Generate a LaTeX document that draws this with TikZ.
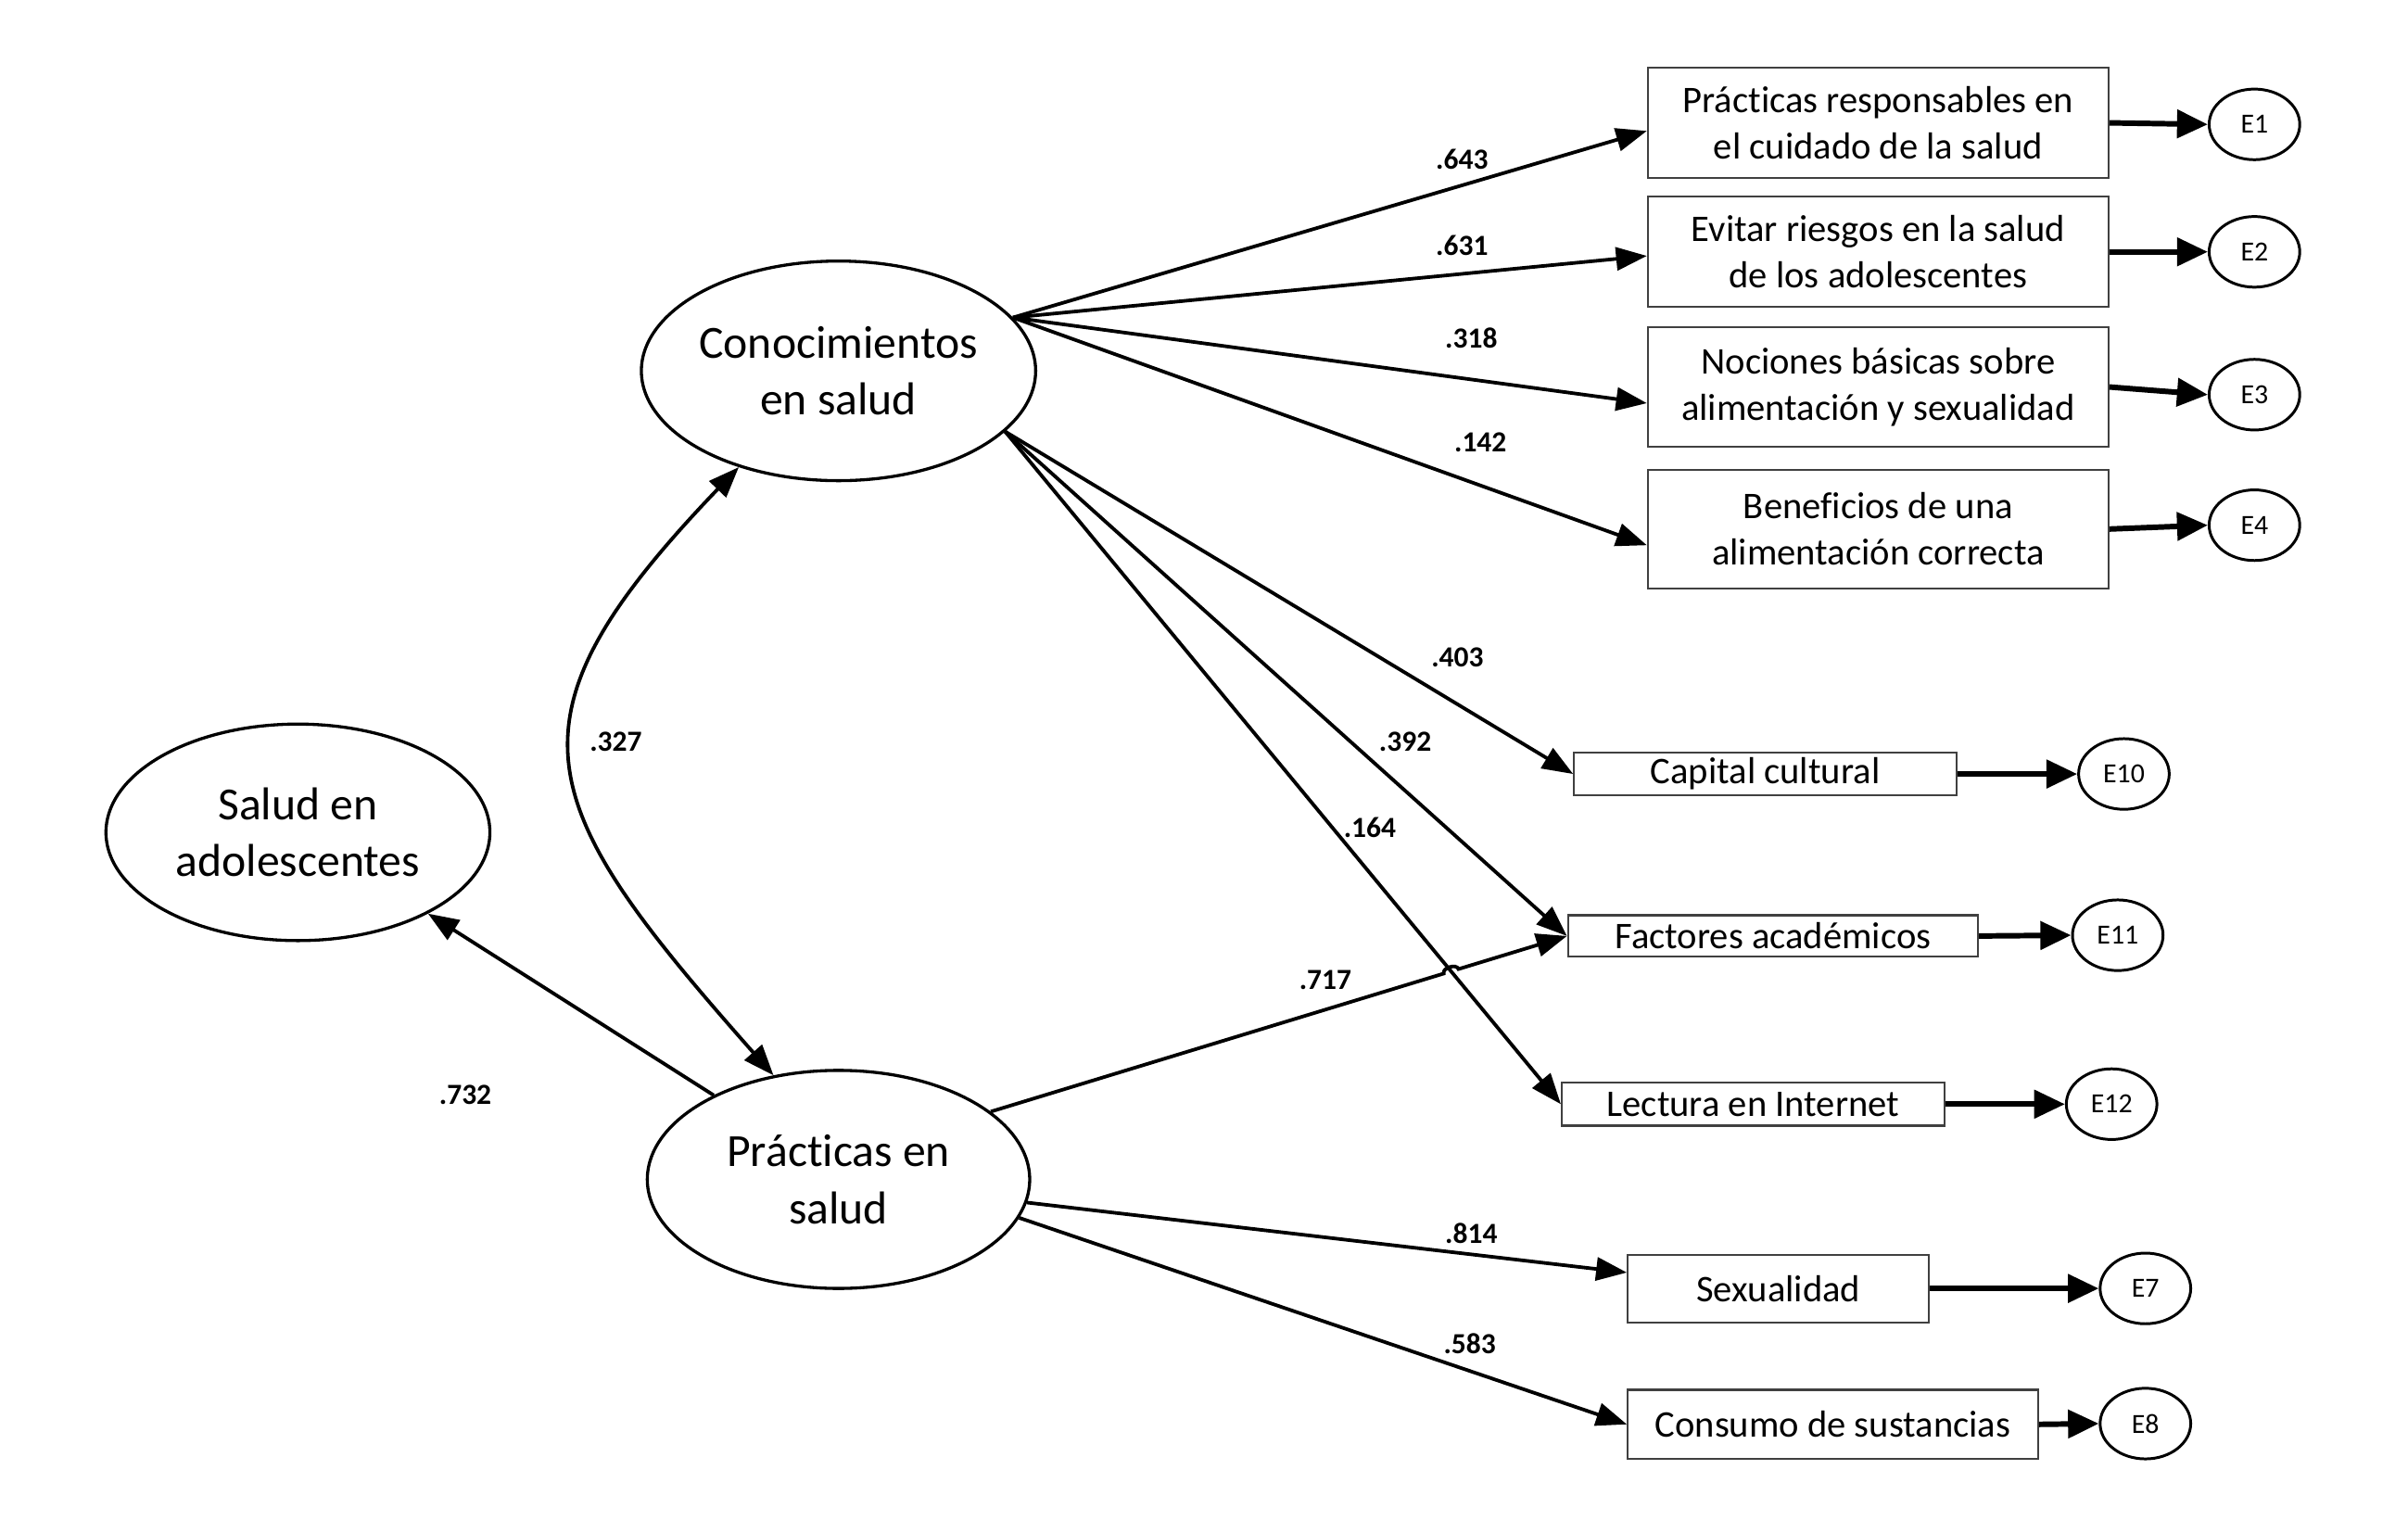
\documentclass[tikz,border=0pt]{standalone}
\usepackage{fontspec}
\setmainfont{Carlito}[Ligatures=NoCommon]
\usetikzlibrary{shapes.geometric,arrows.meta,calc,intersections}
\begin{document}
\begin{tikzpicture}[x=1pt,y=-1pt,
  latent/.style={ellipse,draw,line width=2pt,minimum width=249pt,minimum height=143pt,inner sep=0pt,align=center,font=\fontsize{30}{37}\selectfont},
  obs/.style={rectangle,draw=black!75,line width=1.3pt,inner sep=0pt,align=center,font=\fontsize{24.5}{30}\selectfont},
  err/.style={ellipse,draw,line width=1.8pt,minimum width=59pt,minimum height=46pt,inner sep=0pt,font=\fontsize{18}{20}\selectfont},
  load/.style={line width=2.3pt,-{Triangle[length=20pt,width=15pt]}},
  dload/.style={line width=2.3pt,{Triangle[length=20pt,width=15pt]}-{Triangle[length=20pt,width=15pt]}},
  epath/.style={line width=3.6pt,-{Triangle[length=20pt,width=18pt]}},
  coef/.style={font=\fontsize{19}{22}\selectfont\bfseries,inner sep=0pt}]
\useasboundingbox (0,0) rectangle (1568,998);

% latent variables
\node[latent] (C) at (546,241.5) {Conocimientos\\en salud};
\node[latent,minimum width=250pt,minimum height=141pt] (S) at (194,542) {Salud en\\adolescentes};
\node[latent,minimum height=142pt] (P) at (546,768) {Prácticas en\\salud};

% observed variables
\node[obs,minimum width=300pt,minimum height=72pt] (B1) at (1223,80) {Prácticas responsables en\\el cuidado de la salud};
\node[obs,minimum width=300pt,minimum height=72pt] (B2) at (1223,164) {Evitar riesgos en la salud\\de los adolescentes};
\node[obs,minimum width=300pt,minimum height=78pt] (B3) at (1223,252) {Nociones básicas sobre\\alimentación y sexualidad};
\node[obs,minimum width=300pt,minimum height=77pt] (B4) at (1223,344.5) {Beneficios de una\\alimentación correcta};
\node[obs,minimum width=249pt,minimum height=28pt] (Cap) at (1149.5,504) {Capital cultural};
\node[obs,minimum width=267pt,minimum height=27pt] (Fac) at (1154.5,609.5) {Factores académicos};
\node[obs,minimum width=249pt,minimum height=28pt] (Lec) at (1141.5,719) {Lectura en Internet};
\node[obs,minimum width=196pt,minimum height=44pt] (Sex) at (1158,839) {Sexualidad};
\node[obs,minimum width=267pt,minimum height=45pt] (Con) at (1193.5,927.5) {Consumo de sustancias};

% errors
\node[err] (E1) at (1468,81) {E1};
\node[err] (E2) at (1468,164) {E2};
\node[err] (E3) at (1468,257) {E3};
\node[err] (E4) at (1468,342) {E4};
\node[err] (E10) at (1383,504) {E10};
\node[err] (E11) at (1379,609) {E11};
\node[err] (E12) at (1375,719) {E12};
\node[err] (E7) at (1397,839) {E7};
\node[err] (E8) at (1397,927) {E8};

% error arrows
\draw[epath] (B1.east) -- (E1.west);
\draw[epath] (B2.east) -- (E2.west);
\draw[epath] (B3.east) -- (E3.west);
\draw[epath] (B4.east) -- (E4.west);
\draw[epath] (Cap.east) -- (E10.west);
\draw[epath] (Fac.east) -- (E11.west);
\draw[epath] (Lec.east) -- (E12.west);
\draw[epath] (Sex.east) -- (E7.west);
\draw[epath] (Con.east) -- (E8.west);

% loadings of Conocimientos
\draw[load] (C.17) -- (B1.182);
\draw[load] (C.17) -- (B2.181);
\draw[load] (C.17) -- (B3.184);
\draw[load] (C.17) -- (B4.184);
\draw[load] (C.-20) -- (Cap.west);
\draw[load] (C.-20) -- (Fac.west);
\draw[load,name path=l164] (C.-20) -- (Lec.west);

% loadings of Practicas
\path[name path=l717] (P.24) -- (Fac.west);
\path[name intersections={of=l164 and l717,by=X}];
\draw[load] (P.24) -- ($(X)!5pt!(P.24)$) to[bend left=90] ($(X)!5pt!(Fac.west)$) -- (Fac.west);
\draw[load] (P.-7) -- (Sex.174);
\draw[load] (P.-12) -- (Con.west);
\draw[load] (P.146) -- (S.-32);

% correlation
\draw[dload] (C.224) .. controls (322,470) and (346,522) .. (P.122);

% coefficients
\node[coef] (k1) at (952,104) {.643};
\node[coef] (k2) at (952,160) {.631};
\node[coef] (k3) at (958,220) {.318};
\node[coef] (k4) at (964,288) {.142};
\node[coef] (k5) at (949,428) {.403};
\node[coef] (k6) at (915,483) {.392};
\node[coef] (k7) at (892,539) {.164};
\node[coef] (k8) at (863,638) {.717};
\node[coef] (k9) at (303,713) {.732};
\node[coef] (k10) at (401,483) {.327};
\node[coef] (k11) at (958,803) {.814};
\node[coef] (k12) at (957,875) {.583};
\end{tikzpicture}
\end{document}
